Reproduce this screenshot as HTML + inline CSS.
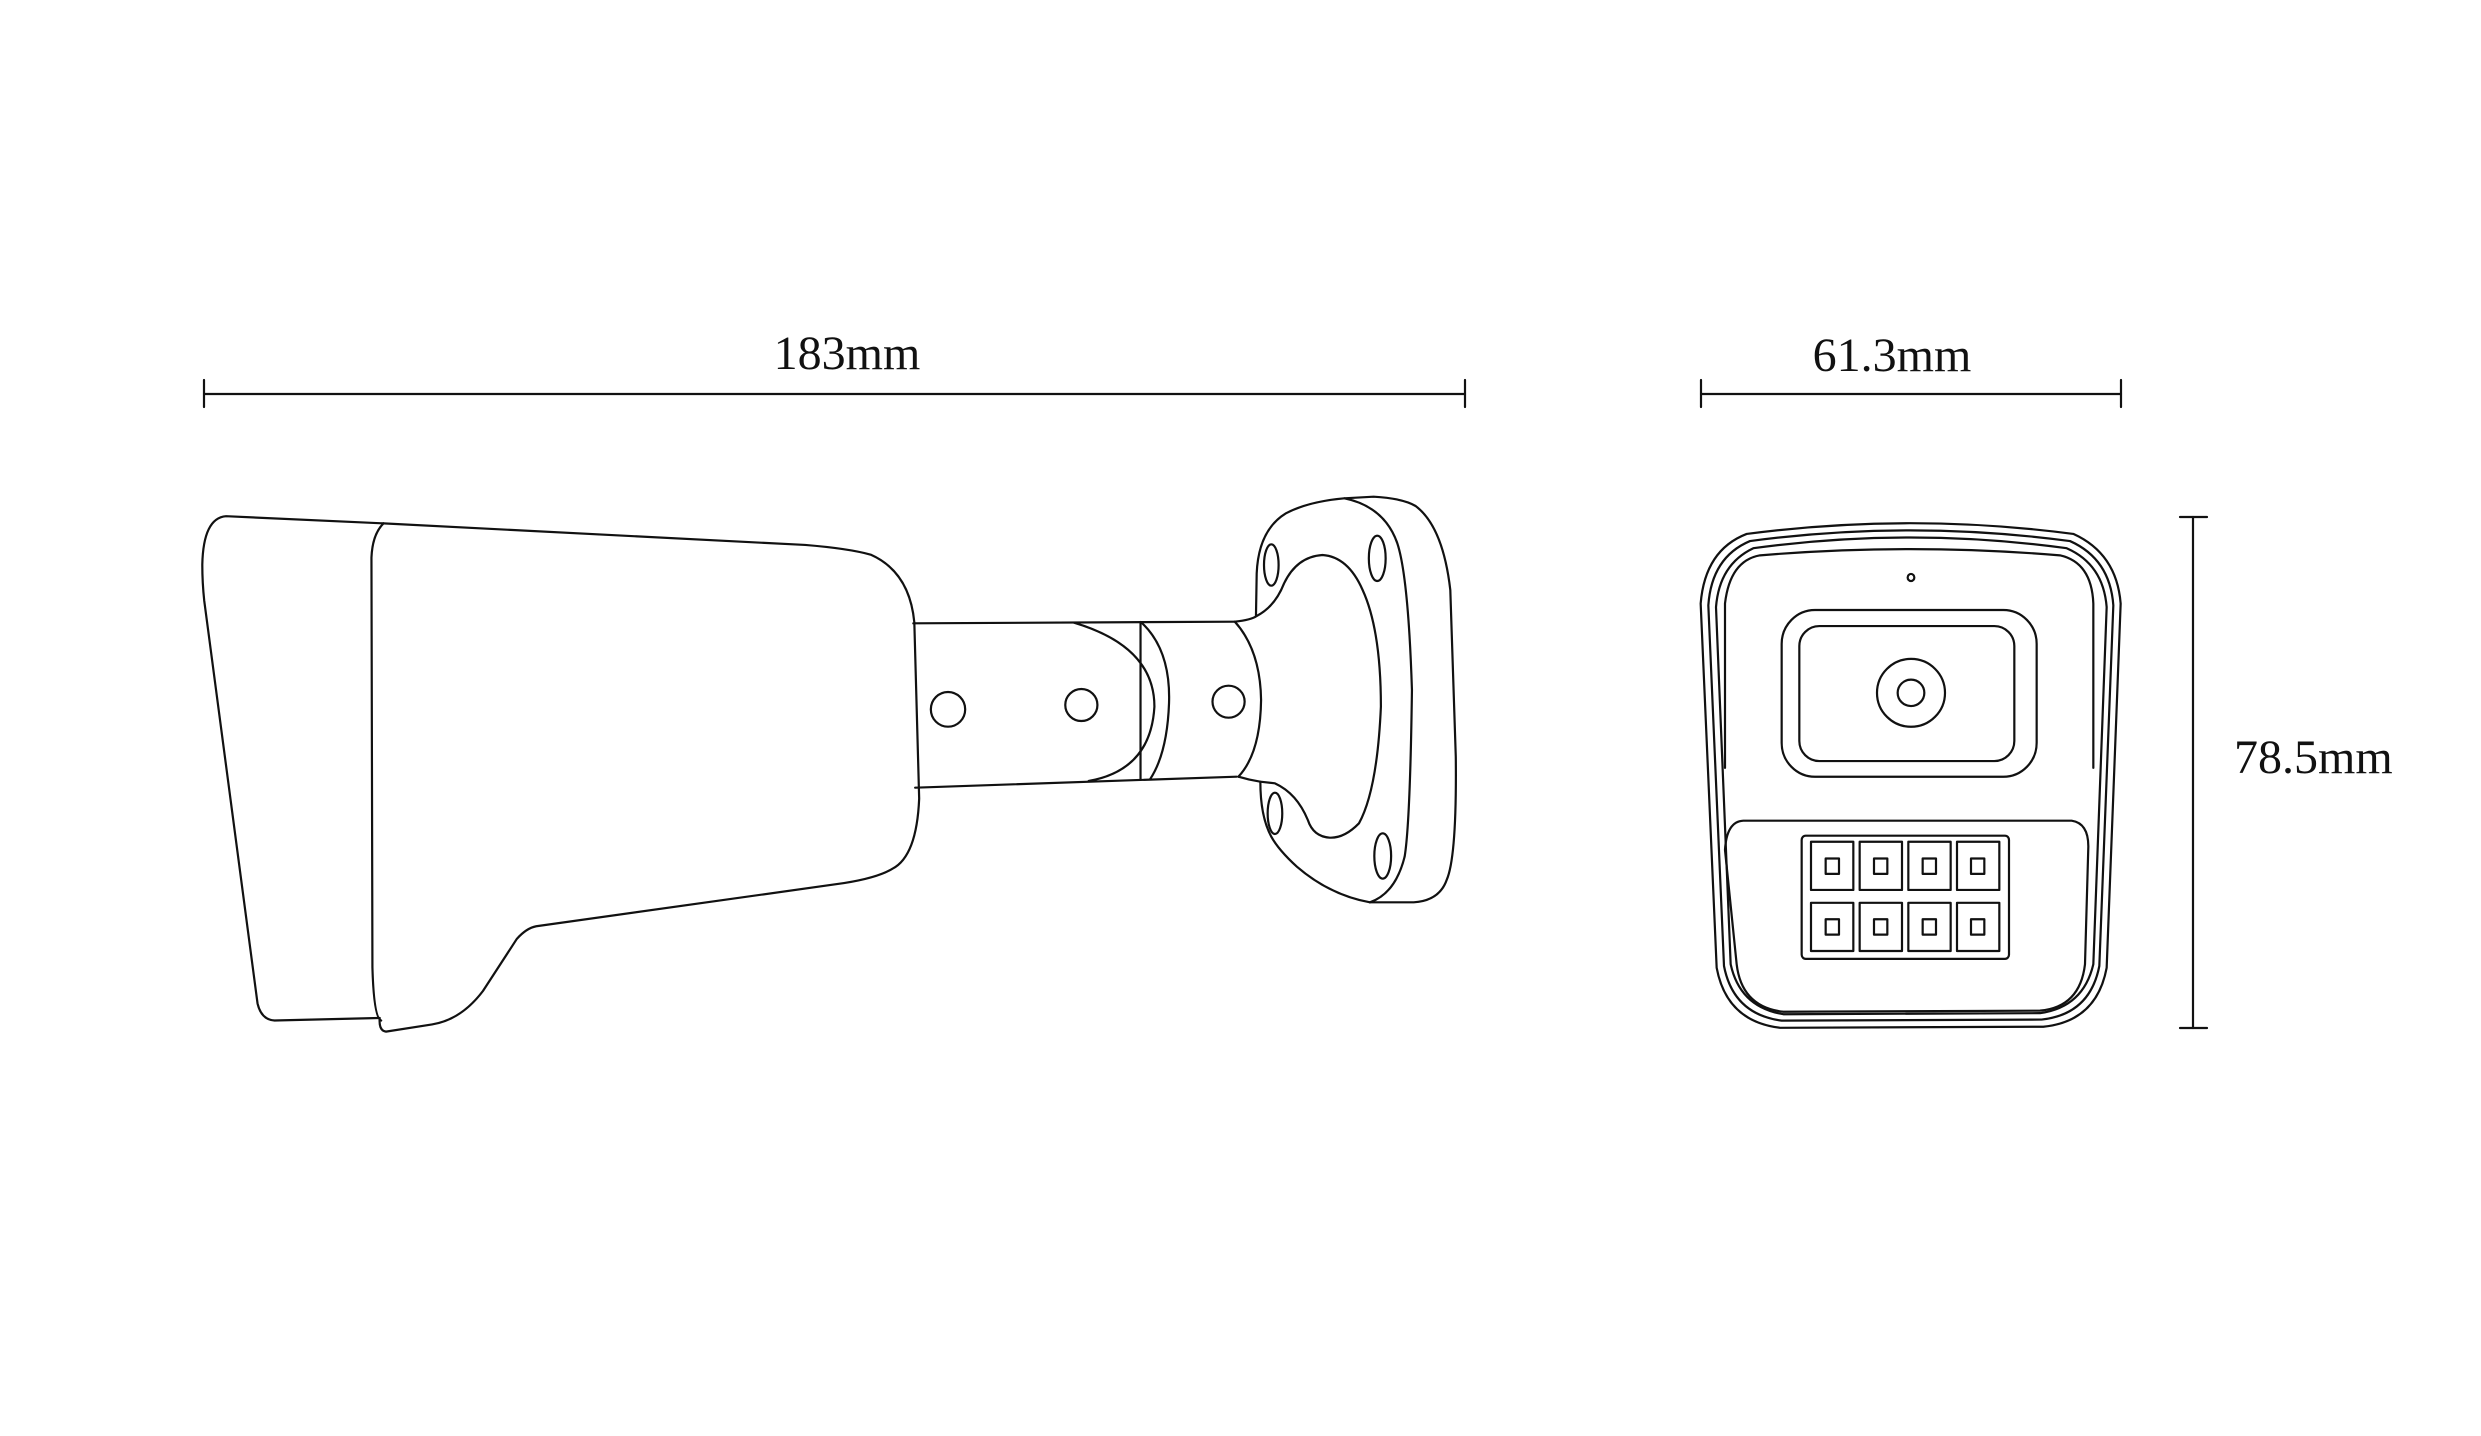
<!DOCTYPE html>
<html><head><meta charset="utf-8"><style>
html,body{margin:0;padding:0;background:#fff;}
svg{display:block;}
text{font-family:"Liberation Serif",serif;fill:#111;}
</style></head><body>
<svg width="2481" height="1436" viewBox="0 0 2481 1436" xmlns="http://www.w3.org/2000/svg">
<g fill="none" stroke="#111" stroke-width="2.2" stroke-linejoin="round" stroke-linecap="round">
<line x1="204" y1="394" x2="1465" y2="394"/>
<line x1="204" y1="380" x2="204" y2="407"/>
<line x1="1465" y1="380" x2="1465" y2="407"/>
<line x1="1701" y1="394" x2="2121" y2="394"/>
<line x1="1701" y1="380" x2="1701" y2="407"/>
<line x1="2121" y1="380" x2="2121" y2="407"/>
<line x1="2193" y1="517" x2="2193" y2="1028"/>
<line x1="2180" y1="517" x2="2207" y2="517"/>
<line x1="2180" y1="1028" x2="2207" y2="1028"/>

<g transform="translate(180,500) scale(0.4847,0.3597)">
<path vector-effect="non-scaling-stroke" d="M420,65 L95,45 Q48,50 46,180 Q46,230 50,280 L160,1400 Q168,1445 195,1447 L410,1440"/>
<path vector-effect="non-scaling-stroke" d="M420,65 Q397,95 395,160 L397,1300 Q400,1440 415,1447"/>
<path vector-effect="non-scaling-stroke" d="M420,65 L1290,125 Q1380,135 1425,152 Q1505,200 1515,340 L1525,830 Q1520,990 1470,1025 Q1440,1050 1370,1065 L735,1185 Q715,1190 695,1220 L625,1365 Q580,1445 520,1458 L425,1478 Q410,1476 412,1440"/>
</g>

<g transform="translate(898.7,490) scale(0.3653,0.33333)">
<path vector-effect="non-scaling-stroke" d="M40,400 L920,395"/>
<path vector-effect="non-scaling-stroke" d="M45,893 L925,860"/>
<path vector-effect="non-scaling-stroke" d="M480,398 Q700,470 700,650 Q690,840 520,873"/>
<path vector-effect="non-scaling-stroke" d="M662,396 L662,868"/>
<path vector-effect="non-scaling-stroke" d="M665,398 Q745,480 740,640 Q735,790 688,868"/>
<path vector-effect="non-scaling-stroke" d="M920,395 Q990,480 992,630 Q990,790 930,860"/>
<path vector-effect="non-scaling-stroke" d="M920,395 Q965,390 980,378 Q1030,350 1055,280 Q1090,200 1160,195 Q1230,200 1270,300 Q1320,420 1320,650 Q1310,900 1260,1000 Q1220,1045 1180,1043 Q1135,1040 1120,990 Q1090,910 1030,880 L990,875 Q960,870 930,860"/>
<path vector-effect="non-scaling-stroke" d="M978,378 L980,250 Q985,120 1060,70 Q1120,35 1220,25 L1300,20 Q1380,25 1415,48 Q1490,110 1510,300 L1525,800 Q1528,1100 1500,1170 Q1480,1232 1410,1237 L1290,1237 Q1180,1215 1090,1130 Q1040,1080 1020,1040 Q990,980 990,875"/>
<path vector-effect="non-scaling-stroke" d="M1220,25 Q1330,50 1365,160 Q1395,260 1405,600 Q1400,1000 1385,1100 Q1360,1210 1290,1237"/>
<ellipse vector-effect="non-scaling-stroke" cx="1020" cy="225" rx="20" ry="62"/>
<ellipse vector-effect="non-scaling-stroke" cx="1310" cy="205" rx="23" ry="68"/>
<ellipse vector-effect="non-scaling-stroke" cx="1030" cy="970" rx="20" ry="62"/>
<ellipse vector-effect="non-scaling-stroke" cx="1325" cy="1098" rx="23" ry="68"/>
<ellipse vector-effect="non-scaling-stroke" cx="135" cy="658" rx="47" ry="52"/>
<ellipse vector-effect="non-scaling-stroke" cx="500" cy="645" rx="44" ry="48"/>
<ellipse vector-effect="non-scaling-stroke" cx="903" cy="635" rx="44" ry="48"/>
</g>

<g transform="translate(1680,500) scale(0.33333,0.3571)">
<path vector-effect="non-scaling-stroke" d="M200,95 Q690,35 1180,95 Q1310,150 1322,290 L1280,1310 Q1250,1460 1090,1475 L300,1478 Q140,1460 110,1310 L62,290 Q75,140 200,95 Z"/>
<path vector-effect="non-scaling-stroke" d="M210,115 Q690,55 1170,115 Q1290,165 1300,295 L1258,1305 Q1230,1440 1085,1455 L305,1458 Q160,1440 132,1305 L85,295 Q95,160 210,115 Z"/>
<path vector-effect="non-scaling-stroke" d="M220,135 Q690,75 1160,135 Q1270,180 1280,300 L1240,1300 Q1210,1420 1080,1437 L310,1440 Q180,1420 152,1300 L108,300 Q118,180 220,135 Z"/>
<path vector-effect="non-scaling-stroke" d="M135,750 L135,290 Q150,170 240,155 Q690,120 1140,155 Q1235,175 1240,290 L1240,750"/>
<ellipse vector-effect="non-scaling-stroke" cx="693" cy="217" rx="10" ry="10"/>
<rect vector-effect="non-scaling-stroke" x="305" y="308" width="765" height="467" rx="100" ry="95"/>
<rect vector-effect="non-scaling-stroke" x="358" y="353" width="645" height="378" rx="60" ry="56"/>
<ellipse vector-effect="non-scaling-stroke" cx="693" cy="540" rx="102" ry="95"/>
<ellipse vector-effect="non-scaling-stroke" cx="693" cy="540" rx="40" ry="37"/>
<path vector-effect="non-scaling-stroke" d="M190,898 L1175,898 Q1225,905 1225,970 L1215,1300 Q1200,1420 1080,1430 L310,1433 Q185,1420 170,1300 L135,980 Q140,900 190,898 Z"/>
<rect vector-effect="non-scaling-stroke" x="365" y="940" width="622" height="345" rx="12"/>
<g>
<rect vector-effect="non-scaling-stroke" x="393" y="957" width="127" height="135"/>
<rect vector-effect="non-scaling-stroke" x="539" y="957" width="127" height="135"/>
<rect vector-effect="non-scaling-stroke" x="685" y="957" width="127" height="135"/>
<rect vector-effect="non-scaling-stroke" x="831" y="957" width="127" height="135"/>
<rect vector-effect="non-scaling-stroke" x="393" y="1128" width="127" height="135"/>
<rect vector-effect="non-scaling-stroke" x="539" y="1128" width="127" height="135"/>
<rect vector-effect="non-scaling-stroke" x="685" y="1128" width="127" height="135"/>
<rect vector-effect="non-scaling-stroke" x="831" y="1128" width="127" height="135"/>
<rect vector-effect="non-scaling-stroke" x="437" y="1004" width="40" height="43"/>
<rect vector-effect="non-scaling-stroke" x="582" y="1004" width="40" height="43"/>
<rect vector-effect="non-scaling-stroke" x="728" y="1004" width="40" height="43"/>
<rect vector-effect="non-scaling-stroke" x="873" y="1004" width="40" height="43"/>
<rect vector-effect="non-scaling-stroke" x="437" y="1174" width="40" height="43"/>
<rect vector-effect="non-scaling-stroke" x="582" y="1174" width="40" height="43"/>
<rect vector-effect="non-scaling-stroke" x="728" y="1174" width="40" height="43"/>
<rect vector-effect="non-scaling-stroke" x="873" y="1174" width="40" height="43"/>
</g>
</g>
</g>
<text x="847" y="369" font-size="48" text-anchor="middle">183mm</text>
<text x="1892" y="371" font-size="48" text-anchor="middle">61.3mm</text>
<text x="2234" y="773" font-size="48">78.5mm</text>
</svg>
</body></html>
